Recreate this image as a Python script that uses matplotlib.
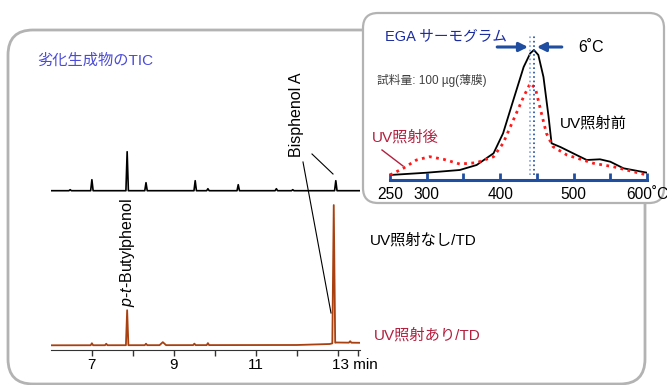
import numpy as np
import matplotlib
matplotlib.use("Agg")
import matplotlib.pyplot as plt
from matplotlib.patches import FancyBboxPatch

plt.rcParams['font.family'] = ['Liberation Sans', 'Noto Sans CJK JP', 'DejaVu Sans']
plt.rcParams['mathtext.fontset'] = 'custom'
plt.rcParams['mathtext.it'] = 'Liberation Sans:italic'
plt.rcParams['mathtext.rm'] = 'Liberation Sans'

# --- TIC chromatograms (retention time in min, peak height in px above baseline)
black_peak_t = [6.47, 7.0, 7.86, 8.32, 9.52, 9.83, 10.57, 11.5, 11.9, 12.95]
black_peak_h = [1, 11, 39, 8, 10, 2, 6, 2, 1, 10]

red_peak_t = [7.0, 7.35, 7.86, 8.32, 8.73, 9.5, 9.83, 12.9, 13.3]
red_peak_h = [2, 1.5, 35, 1.5, 3, 1.5, 2, 138, 1.5]
red_peak_w = [0.03, 0.03, 0.03, 0.03, 0.08, 0.03, 0.03, 0.035, 0.03]
red_base_t = [6.0, 12.0, 12.8, 12.96, 13.55]
red_base_h = [0, 0.3, 1.3, 2.8, 2.5]

time_ticks = [7, 8, 9, 10, 11, 12, 13, 13.5]
time_labels = ['7', '', '9', '', '11', '', '', '']

# --- EGA thermograms (temperature in deg C, intensity)
ega_temp_before = [250, 300, 345, 368, 391, 404, 418, 432, 441, 446, 452, 459, 466, 470,
                   482, 504, 518, 536, 550, 568, 600]
ega_before = [5, 7.3, 10, 15, 26.7, 46.7, 80, 113, 126.7, 130, 125, 103, 63, 36.7,
              33, 25, 20, 20.7, 18.3, 11.7, 7.3]
ega_temp_after = [250, 268, 286, 304, 323, 345, 368, 391, 404, 418, 432, 441, 448, 454,
                  463, 472, 491, 527, 554, 572, 600]
ega_after = [5, 11.7, 20, 23.3, 20.7, 16, 17.3, 23.3, 36.7, 60, 83.3, 96.7, 91.7, 73.3,
             46.7, 33.3, 25, 16.7, 13.3, 10, 5]
temp_ticks = [250, 300, 350, 400, 450, 500, 550, 600]
temp_labels = ['250', '300', '', '400', '', '500', '', '600˚C']
peak_marks = [441, 446]


def trace(peak_t, peak_h, peak_w, base_t, base_h):
    pts = list(zip(base_t, base_h))
    for t, h, w in zip(peak_t, peak_h, peak_w):
        pts.append((t - w, np.interp(t - w, base_t, base_h)))
        pts.append((t, np.interp(t, base_t, base_h) + h))
        pts.append((t + w, np.interp(t + w, base_t, base_h)))
    pts.sort()
    xs, ys = zip(*pts)
    return np.array(xs), np.array(ys)


W, H = 667, 385
fig = plt.figure(figsize=(W / 100, H / 100), dpi=100)


def px(l, t, r, b):
    return [l / W, 1 - b / H, (r - l) / W, (b - t) / H]


BLUE = '#1f4ea0'
CRIMSON = '#b3203f'
BROWN = '#a8400f'

# main chromatogram axes
ax = fig.add_axes(px(50.9, 30, 360.4, 350), zorder=1)
ax.set_xlim(6.0, 13.55)
ax.set_ylim(0, 320)
bx, by = trace(black_peak_t, black_peak_h, [0.03] * len(black_peak_t), [6.0, 13.55], [0, 0])
ax.plot(bx, by + 159.3, color='black', lw=1.2)
rx, ry = trace(red_peak_t, red_peak_h, red_peak_w, red_base_t, red_base_h)
ax.plot(rx, ry + 4.7, color=BROWN, lw=1.3)
for s in ['top', 'left', 'right']:
    ax.spines[s].set_visible(False)
ax.spines['bottom'].set_color('#333333')
ax.set_yticks([])
ax.set_xticks(time_ticks)
ax.set_xticklabels(time_labels)
ax.tick_params(axis='x', direction='out', length=4, width=1, color='#333333', pad=2, labelsize=11)
ax.annotate('13 min', xy=(13, 0), xycoords=('data', 'axes fraction'), xytext=(-4, -5.5),
            textcoords='offset points', ha='left', va='top', fontsize=11)
ax.patch.set_alpha(0)

# overlay in pixel coordinates
ov = fig.add_axes([0, 0, 1, 1], zorder=2)
ov.set_xlim(0, W)
ov.set_ylim(H, 0)
ov.axis('off')
ov.add_patch(FancyBboxPatch((8, 30), 637, 354, boxstyle='round,pad=0,rounding_size=25',
                            fc='none', ec='#b3b3b3', lw=2))
ov.add_patch(FancyBboxPatch((363, 13), 301, 190, boxstyle='round,pad=0,rounding_size=15',
                            fc='white', ec='#b3b3b3', lw=1.6))
ov.text(37, 61, '劣化生成物のTIC', color='#4b4bd8', fontsize=11, va='center')
ov.text(297, 114.5, 'Bisphenol A', rotation=90, ha='center', va='center', fontsize=11.5)
ov.plot([312, 333], [154, 174], color='black', lw=0.8)
ov.plot([303, 331], [162, 313], color='black', lw=0.8)
ov.text(127.5, 252.5, r'$\it{p}$-$\it{t}$-Butylphenol', rotation=90, ha='center', va='center',
        fontsize=11.5)
ov.text(370, 240, 'UV照射なし/TD', fontsize=11, va='center')
ov.text(374, 335, 'UV照射あり/TD', fontsize=11, va='center', color=CRIMSON)
ov.text(385, 37, 'EGA サーモグラム', fontsize=10.5, va='center', color='#1a2ca0')
ov.text(578, 47, '6˚C', fontsize=11.5, va='center')
ov.text(377, 80, '試料量: 100 µg(薄膜)', fontsize=8.5, va='center', color='#404040')
ov.text(560, 123, 'UV照射前', fontsize=11, va='center')
ov.text(372, 137, 'UV照射後', fontsize=11, va='center', color=CRIMSON)
ov.plot([382, 403], [150, 166], color=CRIMSON, lw=1)

# EGA inset axes
ax2 = fig.add_axes(px(390, 30, 647, 180), zorder=3)
ax2.patch.set_alpha(0)
ax2.set_xlim(250, 600)
ax2.set_ylim(0, 150)
ax2.plot(ega_temp_before, ega_before, color='black', lw=1.3)
ax2.plot(ega_temp_after, ega_after, color='#ff1a1a', lw=2, linestyle=(0, (1, 1.6)))
ax2.vlines(peak_marks, 5, 145, colors=['#7fa3e0', BLUE], linestyles=':', lw=1.2)
arrow = dict(arrowstyle='-|>', color=BLUE, lw=2.2, mutation_scale=13, shrinkA=0, shrinkB=0)
ax2.annotate('', xy=(438, 133), xytext=(396, 133), arrowprops=arrow)
ax2.annotate('', xy=(450, 133), xytext=(484, 133), arrowprops=arrow)
for s in ['top', 'left', 'right']:
    ax2.spines[s].set_visible(False)
ax2.spines['bottom'].set_color(BLUE)
ax2.spines['bottom'].set_linewidth(2.2)
ax2.set_yticks([])
ax2.set_xticks(temp_ticks)
ax2.set_xticklabels(temp_labels)
ax2.tick_params(axis='x', direction='in', length=5, width=2, color=BLUE, pad=5, labelsize=11.2)

fig.savefig('out.png', dpi=100)
